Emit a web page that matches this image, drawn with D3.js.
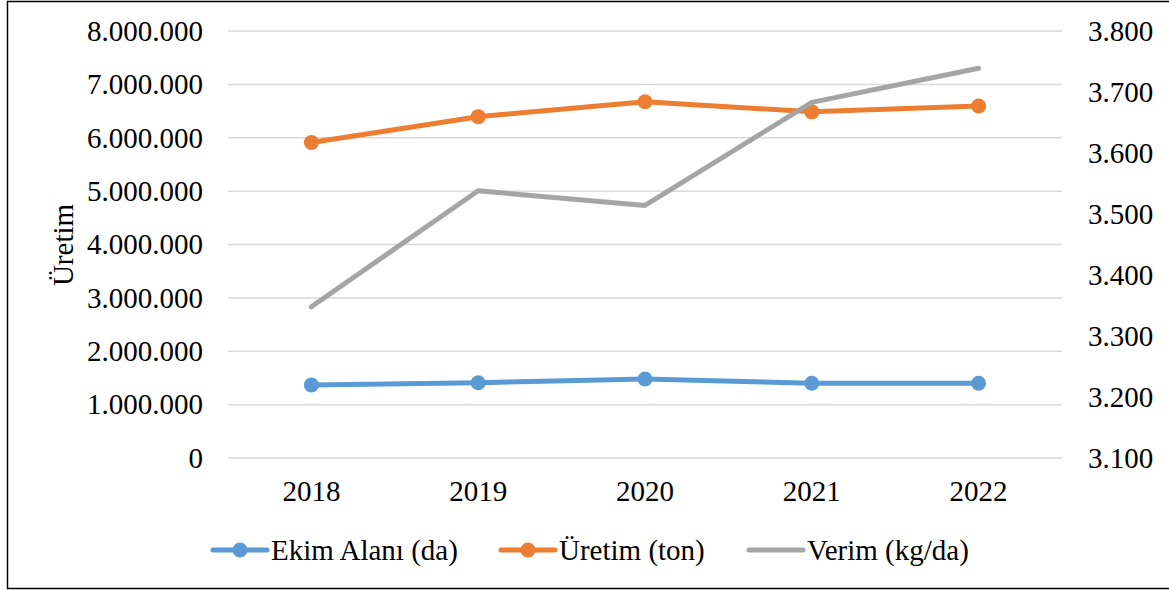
<!DOCTYPE html>
<html>
<head>
<meta charset="utf-8">
<script src="https://cdn.jsdelivr.net/npm/d3@7"></script>
<style>
  body { margin: 0; background: #fff; }
</style>
</head>
<body>
<svg width="1169" height="590"></svg>
<script>
// data
var years = ["2018", "2019", "2020", "2021", "2022"];
var ekimAlani = [1370000, 1410000, 1480000, 1400000, 1400000];
var uretim = [5910000, 6395000, 6675000, 6485000, 6595000];
var verim = [3348, 3538, 3514, 3683, 3739];
var leftTicks = [0, 1000000, 2000000, 3000000, 4000000, 5000000, 6000000, 7000000, 8000000];
var rightTicks = [3100, 3200, 3300, 3400, 3500, 3600, 3700, 3800];
var seriesNames = ["Ekim Alanı (da)", "Üretim (ton)", "Verim (kg/da)"];

var serif = "'Liberation Serif', 'Times New Roman', serif";
var fontSize = "29px";

var svg = d3.select("svg");

// frame around the chart
svg.append("rect")
    .attr("x", 7.5).attr("y", 1.5)
    .attr("width", 1170).attr("height", 587)
    .attr("fill", "none")
    .attr("stroke", "#000")
    .attr("stroke-width", 1.5);

var plot = {l: 228, r: 1062, t: 31, b: 458};

var x = d3.scaleBand()
    .domain(years)
    .range([plot.l, plot.r]);

var yLeft = d3.scaleLinear()
    .domain([0, 8000000])
    .range([plot.b, plot.t]);

var yRight = d3.scaleLinear()
    .domain([3100, 3800])
    .range([plot.b, plot.t]);

var fmt = function(d) {
    return d3.format(",")(d).replace(/,/g, ".");
};

// gridlines
svg.append("g")
    .selectAll("line")
    .data(leftTicks)
    .enter()
    .append("line")
    .attr("x1", plot.l).attr("x2", plot.r)
    .attr("y1", d => yLeft(d)).attr("y2", d => yLeft(d))
    .attr("stroke", "#d9d9d9")
    .attr("stroke-width", 1.5);

function styleAxis(g) {
    g.select(".domain").remove();
    g.selectAll("text")
        .style("font-family", serif)
        .style("font-size", fontSize)
        .attr("fill", "#000");
}

// left axis
var leftAxis = d3.axisLeft(yLeft)
    .tickValues(leftTicks)
    .tickSize(0)
    .tickPadding(25)
    .tickFormat(fmt);

svg.append("g")
    .attr("transform", "translate(" + plot.l + ",0)")
    .call(leftAxis)
    .call(styleAxis);

// right axis
var rightAxis = d3.axisRight(yRight)
    .tickValues(rightTicks)
    .tickSize(0)
    .tickPadding(26)
    .tickFormat(fmt);

svg.append("g")
    .attr("transform", "translate(" + plot.r + ",0)")
    .call(rightAxis)
    .call(styleAxis);

// x axis
var xAxis = d3.axisBottom(x)
    .tickSize(0)
    .tickPadding(22);

svg.append("g")
    .attr("transform", "translate(0," + plot.b + ")")
    .call(xAxis)
    .call(styleAxis);

// y axis title
svg.append("text")
    .attr("transform", "translate(73,245) rotate(-90)")
    .attr("text-anchor", "middle")
    .style("font-family", serif)
    .style("font-size", fontSize)
    .text("Üretim");

var cx = d => x(d) + x.bandwidth() / 2;

var series = [
    {name: seriesNames[0], values: ekimAlani, y: yLeft, color: "#5b9bd5", marker: true},
    {name: seriesNames[1], values: uretim, y: yLeft, color: "#ed7d31", marker: true},
    {name: seriesNames[2], values: verim, y: yRight, color: "#a5a5a5", marker: false}
];

series.forEach(function(s) {
    var line = d3.line()
        .x((d, i) => cx(years[i]))
        .y(d => s.y(d));

    svg.append("path")
        .datum(s.values)
        .attr("d", line)
        .attr("fill", "none")
        .attr("stroke", s.color)
        .attr("stroke-width", 5)
        .attr("stroke-linejoin", "round")
        .attr("stroke-linecap", "round");

    if (s.marker) {
        svg.selectAll(null)
            .data(s.values)
            .enter()
            .append("circle")
            .attr("cx", (d, i) => cx(years[i]))
            .attr("cy", d => s.y(d))
            .attr("r", 7.5)
            .attr("fill", s.color);
    }
});

// legend
var legendX = [213, 501, 749];
var legend = svg.append("g");

series.forEach(function(s, i) {
    var g = legend.append("g")
        .attr("transform", "translate(" + legendX[i] + ",550)");
    g.append("line")
        .attr("x1", 0).attr("x2", 54)
        .attr("y1", 0).attr("y2", 0)
        .attr("stroke", s.color)
        .attr("stroke-width", 5)
        .attr("stroke-linecap", "round");
    if (s.marker) {
        g.append("circle")
            .attr("cx", 27).attr("cy", 0)
            .attr("r", 7.5)
            .attr("fill", s.color);
    }
    g.append("text")
        .attr("x", 58)
        .attr("y", 0)
        .attr("dy", "0.35em")
        .style("font-family", serif)
        .style("font-size", fontSize)
        .text(s.name);
});
</script>
</body>
</html>
